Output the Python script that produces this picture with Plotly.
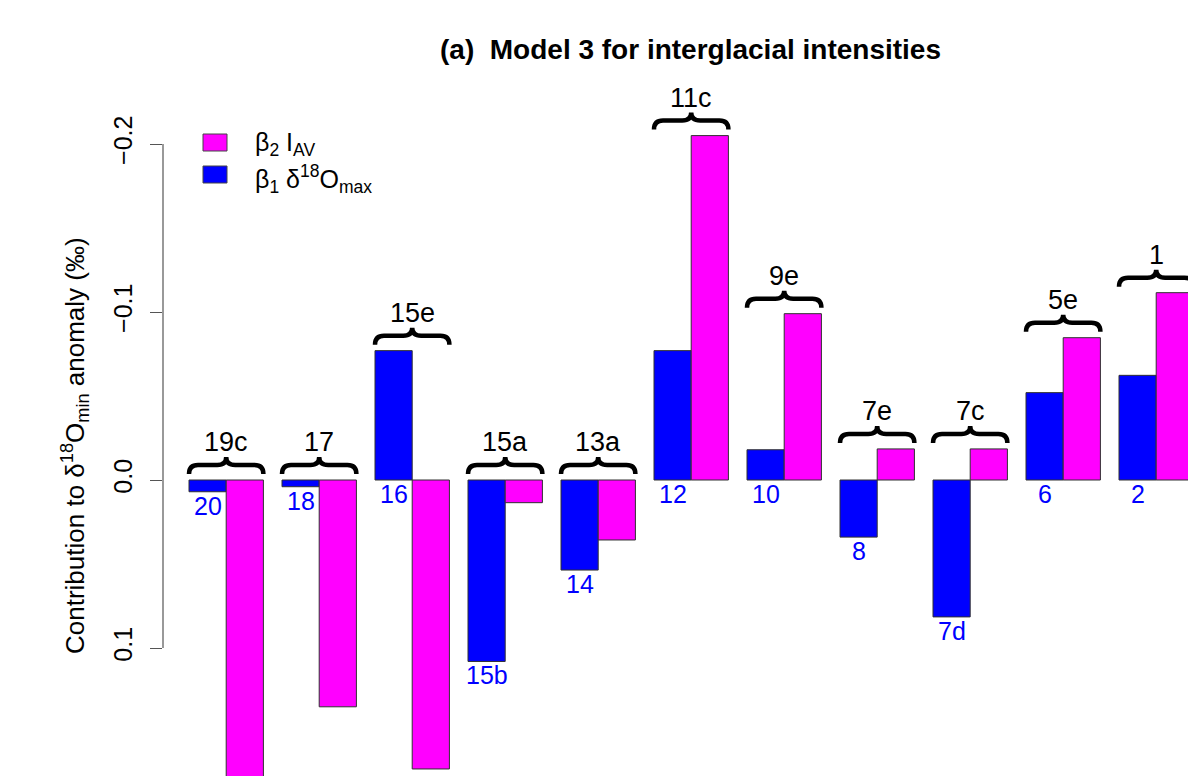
import plotly.graph_objects as go

# Interglacial stages (top labels) and the preceding glacial stages (blue labels)
stages = ["19c", "17", "15e", "15a", "13a", "11c", "9e", "7e", "7c", "5e", "1"]
glacial_labels = ["20", "18", "16", "15b", "14", "12", "10", "8", "7d", "6", "2"]

# Contributions to the d18O_min anomaly (permil)
beta1_d18o_max = [0.007, 0.004, -0.077, 0.108, 0.0536, -0.077, -0.018, 0.034, 0.0815, -0.052, -0.0623]
beta2_iav = [0.19, 0.135, 0.172, 0.0135, 0.0357, -0.205, -0.099, -0.0185, -0.0185, -0.0847, -0.1115]

y_ticks = [-0.2, -0.1, 0.0, 0.1]
y_tick_text = ["\u22120.2", "\u22120.1", "0.0", "0.1"]

# ---- geometry -------------------------------------------------------------
W, H = 1188, 776
LEFT = 163                 # left edge of plotting region (px)
X0_PX = 189                # pixel of x = 0
PX_PER_X = 37.2            # pixels per bar width
ZERO_PX = 480              # pixel row of y = 0
PX_PER_Y = 1680            # pixels per permil
PITCH = 2.5                # group spacing in bar widths

kx = 1.0 / PX_PER_X
ky = 1.0 / PX_PER_Y
x_range = [(LEFT - X0_PX) * kx, (W - X0_PX) * kx]
y_range = [(H - ZERO_PX) * ky, -ZERO_PX * ky]   # reversed axis

FONT = "Liberation Sans, Arial, Helvetica, sans-serif"
BLUE = "#0000ff"
MAGENTA = "#ff00ff"
EDGE = "#303030"

n = len(stages)
x_blue = [PITCH * i + 0.5 for i in range(n)]
x_mag = [PITCH * i + 1.5 for i in range(n)]

fig = go.Figure()
fig.add_trace(go.Bar(x=x_blue, y=beta1_d18o_max, width=1.0, name="beta1",
                     marker=dict(color=BLUE, line=dict(color=EDGE, width=1)),
                     showlegend=False))
fig.add_trace(go.Bar(x=x_mag, y=beta2_iav, width=1.0, name="beta2",
                     marker=dict(color=MAGENTA, line=dict(color=EDGE, width=1)),
                     showlegend=False))

annotations = []
shapes = []

# glacial stage labels under the blue bars
for xb, v, lab in zip(x_blue, beta1_d18o_max, glacial_labels):
    annotations.append(dict(x=xb, y=max(0.0, v) + 14 * ky, xref="x", yref="y",
                            text=lab, showarrow=False, xanchor="center", yanchor="middle",
                            font=dict(family=FONT, size=25, color=BLUE)))

# curly braces with interglacial labels above each pair
for i, (lab, b, m) in enumerate(zip(stages, beta1_d18o_max, beta2_iav)):
    top = min(0.0, b, m)
    xl = PITCH * i
    xr = PITCH * i + 2.0
    xc = 0.5 * (xl + xr)
    yb = top - 6 * ky
    ym = top - 15 * ky
    yt = top - 23 * ky
    r = 9 * kx
    path = (f"M {xl},{yb} Q {xl},{ym} {xl + r},{ym} L {xc - r},{ym} "
            f"Q {xc},{ym} {xc},{yt} Q {xc},{ym} {xc + r},{ym} "
            f"L {xr - r},{ym} Q {xr},{ym} {xr},{yb}")
    shapes.append(dict(type="path", path=path, xref="x", yref="y",
                       line=dict(color="black", width=4.5), layer="above"))
    annotations.append(dict(x=xc, y=top - 38 * ky, xref="x", yref="y", text=lab,
                            showarrow=False, xanchor="center", yanchor="middle",
                            font=dict(family=FONT, size=27, color="black")))

# y axis line spanning the tick range only
shapes.append(dict(type="line", xref="paper", yref="y", x0=0, x1=0,
                   y0=y_ticks[0], y1=y_ticks[-1], line=dict(color="#555555", width=1.2)))

# legend
def px_x(p):
    return (p - LEFT) / (W - LEFT)

def px_y(p):
    return 1 - p / H

for (y0p, y1p, col, txt, yc) in [
        (134, 151, MAGENTA, "\u03b2<sub>2</sub> I<sub>AV</sub>", 144),
        (166, 183, BLUE, "\u03b2<sub>1</sub> \u03b4<sup>18</sup>O<sub>max</sub>", 179)]:
    shapes.append(dict(type="rect", xref="paper", yref="paper",
                       x0=px_x(203), x1=px_x(227), y0=px_y(y1p), y1=px_y(y0p),
                       fillcolor=col, line=dict(color="#444444", width=1)))
    annotations.append(dict(x=px_x(253), y=px_y(yc), xref="paper", yref="paper",
                            text=txt, showarrow=False, xanchor="left", yanchor="middle",
                            font=dict(family=FONT, size=25, color="black")))

# y axis title
annotations.append(dict(x=px_x(75), y=px_y(446), xref="paper", yref="paper",
                        text="Contribution to \u03b4<sup>18</sup>O<sub>min</sub> anomaly (\u2030)",
                        textangle=-90, showarrow=False, xanchor="center", yanchor="middle",
                        font=dict(family=FONT, size=26, color="black")))

# title
annotations.append(dict(x=px_x(690), y=px_y(49), xref="paper", yref="paper",
                        text="<b>(a)\u00a0 Model 3 for interglacial intensities</b>",
                        showarrow=False, xanchor="center", yanchor="middle",
                        font=dict(family=FONT, size=28, color="black")))

fig.update_layout(
    width=W, height=H,
    margin=dict(l=LEFT, r=0, t=0, b=0, pad=0),
    paper_bgcolor="white", plot_bgcolor="white",
    barmode="overlay",
    xaxis=dict(range=x_range, showgrid=False, zeroline=False, showline=False,
               showticklabels=False, ticks=""),
    yaxis=dict(range=y_range, showgrid=False, zeroline=False, showline=False,
               tickvals=y_ticks, ticktext=y_tick_text, ticks="outside", ticklen=12,
               tickcolor="#555555", tickwidth=1.2, tickangle=-90,
               ticklabelstandoff=8,
               tickfont=dict(family=FONT, size=25, color="black")),
    shapes=shapes,
    annotations=annotations,
    font=dict(family=FONT),
)

fig.write_html("out.html")
